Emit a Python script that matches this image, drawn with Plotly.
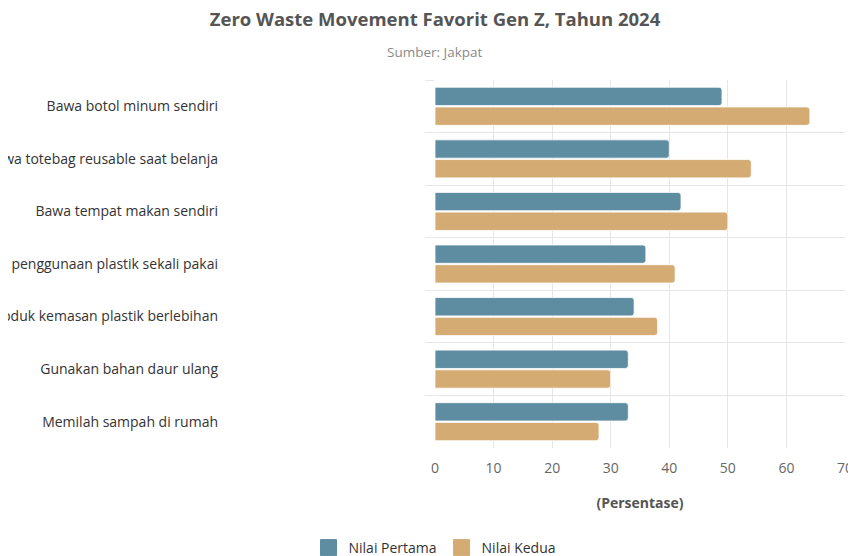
import plotly.graph_objects as go

categories = [
    "Bawa botol minum sendiri",
    "Bawa totebag reusable saat belanja",
    "Bawa tempat makan sendiri",
    "Kurangi penggunaan plastik sekali pakai",
    "Hindari produk kemasan plastik berlebihan",
    "Gunakan bahan daur ulang",
    "Memilah sampah di rumah",
]
nilai_pertama = [49, 40, 42, 36, 34, 33, 33]
nilai_kedua = [64, 54, 50, 41, 38, 30, 28]
x_ticks = [0, 10, 20, 30, 40, 50, 60, 70]
series_names = ["Nilai Pertama", "Nilai Kedua"]
series_colors = ["#5e8ca0", "#d3ab73"]

FONT = "Open Sans"
W, H = 848, 548          # page body has an 8px margin
ML, MR, MT, MB = 427, 11, 72, 108
PLOT_H = H - MT - MB

fig = go.Figure()
for name, vals, col in zip(series_names, [nilai_pertama, nilai_kedua], series_colors):
    fig.add_trace(go.Bar(
        y=categories, x=vals, name=name, orientation="h", showlegend=False,
        marker=dict(color=col, line=dict(color="rgba(255,255,255,0.8)", width=1), cornerradius=3),
        hoverinfo="x+name",
    ))
# legend entries with larger swatches
for name, col in zip(series_names, series_colors):
    fig.add_trace(go.Scatter(
        x=[None], y=[None], mode="markers", name=name, showlegend=True,
        marker=dict(symbol="square", size=16, color=col, line=dict(color=col, width=1)),
    ))

fig.update_layout(
    width=W, height=H,
    margin=dict(l=ML, r=MR, t=MT, b=MB, autoexpand=False),
    paper_bgcolor="white", plot_bgcolor="white",
    font=dict(family=FONT, color="#555555"),
    barmode="group", bargap=0.25, bargroupgap=0.07,
    title=dict(
        text="<b>Zero Waste Movement Favorit Gen Z, Tahun 2024</b>",
        x=ML / W, xanchor="center", xref="container",
        y=1 - 12 / H, yanchor="middle", yref="container",
        font=dict(family=FONT, size=18.5, color="#555555"),
    ),
    annotations=[dict(
        text="Sumber: Jakpat", xref="paper", yref="paper",
        x=0, y=(PLOT_H + 44 - MT) / PLOT_H if False else (H - MB - 44) / PLOT_H,
        xanchor="center", yanchor="middle", showarrow=False,
        font=dict(family=FONT, size=13.5, color="#8a8a8a"),
    )],
    xaxis=dict(
        range=[0, 70], tickvals=x_ticks, showgrid=True, gridcolor="#e6e6e6",
        zeroline=False, showline=False, ticks="", automargin=False,
        tickfont=dict(family=FONT, size=14, color="#666666"),
        ticklabelstandoff=10,
        title=dict(text="<b>(Persentase)</b>", font=dict(family=FONT, size=14, color="#555555"), standoff=22),
    ),
    yaxis=dict(
        type="category", autorange="reversed", tickson="boundaries",
        ticks="outside", ticklen=9, tickcolor="#e6e6e6", automargin=False,
        showgrid=True, gridcolor="#e6e6e6", showline=False, zeroline=False,
        tickfont=dict(family=FONT, size=14, color="#333333"),
        ticklabelstandoff=216,
    ),
    legend=dict(
        orientation="h", xref="container", x=ML / W, xanchor="center",
        yref="container", y=1 - 524 / H, yanchor="top",
        font=dict(family=FONT, size=14, color="#333333"),
        traceorder="normal", itemsizing="trace",
    ),
)

fig.write_html("out.html")
